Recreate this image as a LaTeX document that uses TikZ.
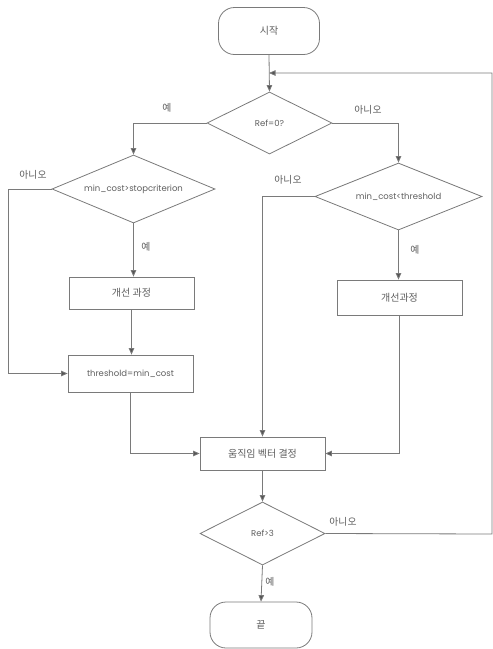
\documentclass[tikz,border=0pt]{standalone}
\usepackage{fontspec}
\setmainfont{Poppins}
\newfontfamily\kr{Noto Sans CJK KR}
\usetikzlibrary{shapes.geometric,arrows.meta}
\definecolor{ln}{HTML}{7A7A7A}
\definecolor{tx}{HTML}{5E5E5E}
\tikzset{
  base/.style={draw=ln,line width=0.8pt,text=tx,font=\fontsize{8.5}{10}\selectfont,inner sep=0pt},
  term/.style={base,rounded corners=16pt,minimum width=101pt,minimum height=47pt},
  box/.style={base,minimum width=125pt,minimum height=34pt},
  dia/.style={base,diamond,aspect=2},
  lbl/.style={text=tx,font=\kr\fontsize{9.8}{10}\selectfont,inner sep=0pt},
  krt/.style={font=\kr\fontsize{10}{10}\selectfont},
  con/.style={draw=ln,line width=0.8pt},
  arr/.style={con,-{Triangle[length=6.5pt,width=5.5pt,fill=ln!70!black]}}
}
\begin{document}
\begin{tikzpicture}[x=1pt,y=-1pt]
\useasboundingbox (0,0) rectangle (493,649);
% nodes
\node[term,krt] (s) at (269,31) {시작};
\node[dia,minimum width=125pt,minimum height=62pt] (d1) at (269.5,123) {Ref=0?};
\node[dia,minimum width=163pt,minimum height=68pt] (d2) at (133.5,189) {min\_cost>stopcriterion};
\node[dia,minimum width=167pt,minimum height=67pt] (d3) at (398.5,196.5) {min\_cost<threshold};
\node[box,krt,minimum height=32pt] (b1) at (131.5,293) {개선 과정};
\node[box,minimum height=37pt] (t) at (130.5,373.5) {threshold=min\_cost};
\node[box,krt,minimum height=35pt] (b2) at (399.5,297.5) {개선과정};
\node[box,krt,minimum height=33pt] (m) at (262.5,453.5) {움직임 벡터 결정};
\node[dia,minimum width=125pt,minimum height=63pt] (d4) at (262.5,533.5) {Ref>3};
\node[term,krt,minimum width=102pt,minimum height=46pt] (e) at (261,625) {끝};
% coordinates
\coordinate (J) at (269,73);
\coordinate (L) at (8,189);
\coordinate (R) at (492,534);
% connectors
\draw[arr] (s.south) -- (d1.north);
\draw[arr] (d1.west) -| (d2.north);
\draw[arr] (d1.east) -| (d3.north);
\draw[arr] (d2.south) -- (d2.south |- b1.north);
\draw[arr] (b1.south) -- (b1.south |- t.north);
\draw[arr] (d2.west) -- (L) |- (t.west);
\draw[arr] (t.south) |- (m.west);
\draw[arr] (d3.west) -| (m.north);
\draw[arr] (d3.south) -- (d3.south |- b2.north);
\draw[arr] (b2.south) |- (m.east);
\draw[arr] (m.south) -- (d4.north);
\draw[arr] (d4.south) -- (e.north);
\draw[arr] (d4.east) -- (R) |- (J);
% labels
\node[lbl] (y1) at (167,108) {예};
\node[lbl] (n1) at (368,110) {아니오};
\node[lbl] (n2) at (33,175) {아니오};
\node[lbl] (n3) at (288,180) {아니오};
\node[lbl] (y2) at (146,247) {예};
\node[lbl] (y3) at (415,250) {예};
\node[lbl] (n4) at (343,522) {아니오};
\node[lbl] (y4) at (270,582) {예};
\end{tikzpicture}
\end{document}
